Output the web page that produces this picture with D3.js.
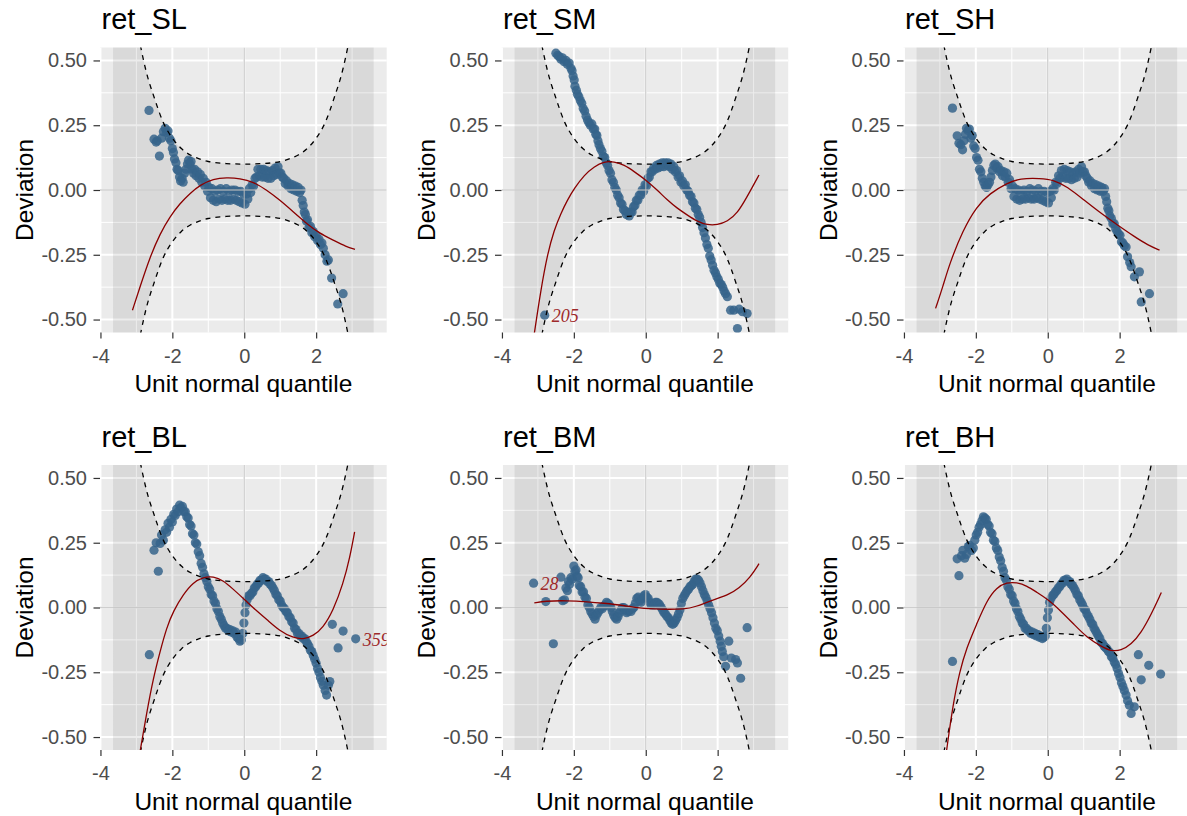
<!DOCTYPE html>
<html>
<head>
<meta charset="utf-8">
<title>Worm plots</title>
<script src="https://d3js.org/d3.v7.min.js"></script>
<style>
  html, body { margin: 0; background: #fff; }
  svg { display: block; font-family: "Liberation Sans", Arial, sans-serif; }
</style>
</head>
<body>
<svg id="chart" width="1187" height="816"></svg>
<script>
// ---- data ----
var panelNames = ["ret_SL", "ret_SM", "ret_SH", "ret_BL", "ret_BM", "ret_BH"];
var xTicks = [-4, -2, 0, 2];
var yTicks = [-0.5, -0.25, 0, 0.25, 0.5];
var xMinor = [-3, -1, 1, 3];
var yMinor = [-0.375, -0.125, 0.125, 0.375];

// confidence band (dashed) and shaded ribbon
var bandX     = [-3.65, -3.5, -3.25, -3.0, -2.75, -2.5, -2.25, -2.0, -1.75, -1.5, -1.25, -1.0, -0.5, 0, 0.5, 1.0, 1.25, 1.5, 1.75, 2.0, 2.25, 2.5, 2.75, 3.0, 3.25, 3.5, 3.6];
var bandUpper = [1.75, 1.4, 0.95, 0.65, 0.47, 0.355, 0.26, 0.2, 0.16, 0.135, 0.12, 0.11, 0.102, 0.1, 0.102, 0.11, 0.12, 0.135, 0.16, 0.2, 0.26, 0.355, 0.47, 0.65, 0.95, 1.4, 1.6];
var bandLower = [-1.75, -1.4, -0.95, -0.65, -0.47, -0.355, -0.26, -0.2, -0.16, -0.135, -0.12, -0.11, -0.102, -0.1, -0.102, -0.11, -0.12, -0.135, -0.16, -0.2, -0.26, -0.355, -0.47, -0.65, -0.95, -1.4, -1.6];

var slPoints = [[-2.65,0.307],[-2.51,0.196],[-2.45,0.185],[-2.42,0.19],[-2.36,0.131],[-2.3,0.2],[-2.25,0.225],[-2.2,0.238],[-2.16,0.222],[-2.12,0.228],[-2.08,0.2],[-2.04,0.19],[-2.0,0.16],[-1.97,0.145],[-1.94,0.12],[-1.9,0.105],[-1.87,0.08],[-1.84,0.075],[-1.8,0.05],[-1.77,0.035],[-1.73,0.045],[-1.7,0.03],[-1.66,0.065],[-1.62,0.08],[-1.58,0.1],[-1.55,0.115],[-1.51,0.1],[-1.48,0.11],[-1.45,0.08],[-1.41,0.065],[-1.38,0.08],[-1.34,0.055],[-1.3,0.07],[-1.26,0.045],[-1.22,0.06],[-1.18,0.03],[-1.14,0.045],[-1.1,0.015],[-1.06,0.03],[-1.02,-0.005],[-0.98,0.01],[-0.94,-0.03],[-0.9,0.005],[-0.86,-0.04],[-0.82,-0.005],[-0.78,-0.045],[-0.74,0.0],[-0.7,-0.035],[-0.66,0.005],[-0.62,-0.04],[-0.58,-0.005],[-0.54,-0.035],[-0.5,0.005],[-0.46,-0.04],[-0.42,-0.005],[-0.38,-0.04],[-0.34,0.0],[-0.3,-0.035],[-0.26,0.0],[-0.22,-0.04],[-0.18,-0.005],[-0.14,-0.045],[-0.1,-0.005],[-0.06,-0.05],[-0.02,-0.015],[0.02,-0.055],[0.06,-0.015],[0.1,-0.035],[0.14,0.005],[0.18,-0.01],[0.22,0.02],[0.26,0.015],[0.3,0.045],[0.34,0.05],[0.38,0.08],[0.42,0.055],[0.46,0.08],[0.5,0.05],[0.54,0.08],[0.58,0.05],[0.62,0.075],[0.66,0.045],[0.7,0.07],[0.74,0.045],[0.78,0.075],[0.82,0.055],[0.86,0.085],[0.9,0.06],[0.94,0.09],[0.98,0.065],[1.02,0.065],[1.06,0.05],[1.1,0.045],[1.14,0.025],[1.18,0.035],[1.22,0.015],[1.26,0.025],[1.3,0.005],[1.34,0.02],[1.38,0.0],[1.42,0.015],[1.46,-0.005],[1.5,0.01],[1.54,-0.01],[1.58,0.0],[1.61,-0.04],[1.64,-0.06],[1.67,-0.085],[1.7,-0.095],[1.73,-0.12],[1.76,-0.115],[1.8,-0.145],[1.84,-0.14],[1.88,-0.165],[1.92,-0.16],[1.96,-0.18],[2.0,-0.175],[2.04,-0.195],[2.08,-0.19],[2.12,-0.21],[2.16,-0.205],[2.2,-0.225],[2.25,-0.25],[2.3,-0.275],[2.34,-0.27],[2.43,-0.34],[2.6,-0.44],[2.75,-0.40]];
var slFit = [[-3.11,-0.464],[-2.9,-0.374],[-2.62,-0.258],[-2.34,-0.168],[-2.07,-0.103],[-1.79,-0.052],[-1.51,-0.013],[-1.23,0.019],[-0.86,0.043],[-0.49,0.048],[-0.12,0.045],[0.25,0.032],[0.62,0.0],[0.99,-0.039],[1.36,-0.084],[1.73,-0.129],[2.1,-0.168],[2.47,-0.193],[2.84,-0.219],[3.08,-0.229]];
var slLabels = [];

var smPoints = [[-2.81,-0.483],[-2.5,0.528],[-2.45,0.52],[-2.41,0.515],[-2.36,0.505],[-2.32,0.51],[-2.27,0.495],[-2.22,0.5],[-2.18,0.485],[-2.13,0.49],[-2.08,0.47],[-2.05,0.46],[-2.02,0.44],[-1.99,0.425],[-1.97,0.4],[-1.93,0.385],[-1.9,0.37],[-1.86,0.36],[-1.82,0.345],[-1.78,0.335],[-1.74,0.315],[-1.7,0.305],[-1.66,0.285],[-1.62,0.27],[-1.58,0.26],[-1.54,0.25],[-1.5,0.255],[-1.46,0.235],[-1.42,0.235],[-1.39,0.215],[-1.36,0.21],[-1.33,0.19],[-1.3,0.175],[-1.26,0.16],[-1.22,0.15],[-1.18,0.13],[-1.14,0.125],[-1.1,0.105],[-1.06,0.095],[-1.02,0.075],[-0.98,0.065],[-0.94,0.04],[-0.9,0.03],[-0.86,0.01],[-0.82,0.0],[-0.78,-0.02],[-0.74,-0.03],[-0.7,-0.05],[-0.66,-0.055],[-0.62,-0.075],[-0.58,-0.08],[-0.54,-0.095],[-0.5,-0.085],[-0.46,-0.1],[-0.42,-0.085],[-0.38,-0.085],[-0.34,-0.065],[-0.3,-0.06],[-0.26,-0.04],[-0.22,-0.04],[-0.18,-0.02],[-0.14,-0.02],[-0.1,0.0],[-0.06,-0.005],[-0.02,0.02],[0.02,0.015],[0.06,0.045],[0.1,0.05],[0.14,0.07],[0.18,0.07],[0.22,0.085],[0.26,0.08],[0.3,0.095],[0.34,0.085],[0.38,0.1],[0.42,0.09],[0.46,0.105],[0.5,0.09],[0.54,0.105],[0.58,0.095],[0.62,0.105],[0.66,0.09],[0.7,0.1],[0.74,0.08],[0.78,0.09],[0.82,0.07],[0.86,0.075],[0.9,0.05],[0.94,0.055],[0.98,0.03],[1.02,0.035],[1.06,0.015],[1.1,0.02],[1.14,0.0],[1.18,-0.005],[1.22,-0.02],[1.26,-0.025],[1.3,-0.045],[1.34,-0.05],[1.38,-0.07],[1.42,-0.075],[1.46,-0.095],[1.5,-0.105],[1.54,-0.125],[1.58,-0.145],[1.62,-0.165],[1.66,-0.185],[1.7,-0.21],[1.74,-0.225],[1.78,-0.255],[1.82,-0.27],[1.86,-0.29],[1.9,-0.31],[1.94,-0.32],[1.98,-0.335],[2.02,-0.345],[2.06,-0.36],[2.1,-0.365],[2.14,-0.375],[2.18,-0.39],[2.22,-0.4],[2.27,-0.412],[2.36,-0.464],[2.45,-0.464],[2.55,-0.535],[2.6,-0.46],[2.69,-0.47],[2.82,-0.477]];
var smFit = [[-3.1,-0.554],[-2.92,-0.387],[-2.73,-0.245],[-2.55,-0.155],[-2.36,-0.09],[-2.18,-0.039],[-1.99,0.006],[-1.71,0.058],[-1.44,0.09],[-1.16,0.11],[-0.88,0.11],[-0.6,0.097],[-0.32,0.071],[0.0,0.039],[0.32,0.0],[0.6,-0.039],[0.88,-0.071],[1.16,-0.097],[1.44,-0.122],[1.71,-0.135],[1.99,-0.135],[2.27,-0.122],[2.55,-0.09],[2.82,-0.026],[3.15,0.058]];
var smLabels = [[-2.81, -0.483, "205"]];

var shPoints = [[-2.65,0.316],[-2.52,0.209],[-2.47,0.18],[-2.42,0.175],[-2.37,0.155],[-2.33,0.19],[-2.29,0.215],[-2.26,0.238],[-2.22,0.23],[-2.18,0.235],[-2.14,0.2],[-2.1,0.21],[-2.06,0.17],[-2.02,0.16],[-1.98,0.125],[-1.94,0.115],[-1.9,0.08],[-1.86,0.07],[-1.82,0.045],[-1.78,0.03],[-1.74,0.015],[-1.7,0.01],[-1.66,0.02],[-1.62,0.03],[-1.58,0.05],[-1.54,0.075],[-1.5,0.095],[-1.46,0.1],[-1.42,0.085],[-1.38,0.09],[-1.34,0.07],[-1.3,0.075],[-1.26,0.055],[-1.22,0.07],[-1.18,0.05],[-1.14,0.065],[-1.1,0.03],[-1.06,0.04],[-1.02,0.005],[-0.98,0.015],[-0.94,-0.025],[-0.9,0.005],[-0.86,-0.035],[-0.82,0.0],[-0.78,-0.04],[-0.74,-0.005],[-0.7,-0.035],[-0.66,0.0],[-0.62,-0.035],[-0.58,-0.005],[-0.54,-0.03],[-0.5,0.005],[-0.46,-0.035],[-0.42,0.0],[-0.38,-0.035],[-0.34,-0.005],[-0.3,-0.03],[-0.26,0.005],[-0.22,-0.035],[-0.18,-0.005],[-0.14,-0.04],[-0.1,-0.005],[-0.06,-0.045],[-0.02,-0.01],[0.02,-0.05],[0.06,-0.005],[0.1,-0.03],[0.14,0.005],[0.18,0.0],[0.22,0.03],[0.26,0.025],[0.3,0.055],[0.34,0.045],[0.38,0.075],[0.42,0.05],[0.46,0.08],[0.5,0.045],[0.54,0.075],[0.58,0.045],[0.62,0.07],[0.66,0.04],[0.7,0.065],[0.74,0.045],[0.78,0.07],[0.82,0.05],[0.86,0.08],[0.9,0.065],[0.94,0.09],[0.98,0.07],[1.02,0.07],[1.06,0.055],[1.1,0.045],[1.14,0.03],[1.18,0.035],[1.22,0.015],[1.26,0.025],[1.3,0.005],[1.34,0.02],[1.38,0.0],[1.42,0.015],[1.46,-0.005],[1.5,0.01],[1.54,-0.005],[1.58,0.005],[1.61,-0.025],[1.64,-0.045],[1.67,-0.07],[1.7,-0.08],[1.73,-0.1],[1.77,-0.11],[1.81,-0.13],[1.85,-0.13],[1.89,-0.15],[1.93,-0.16],[1.97,-0.17],[2.01,-0.175],[2.05,-0.2],[2.09,-0.205],[2.13,-0.215],[2.18,-0.22],[2.22,-0.258],[2.28,-0.28],[2.32,-0.296],[2.41,-0.335],[2.55,-0.316],[2.6,-0.432],[2.83,-0.40]];
var shFit = [[-3.12,-0.457],[-2.92,-0.374],[-2.73,-0.284],[-2.36,-0.155],[-1.98,-0.064],[-1.61,-0.013],[-1.14,0.026],[-0.77,0.045],[-0.21,0.045],[0.17,0.039],[0.54,0.013],[1.01,-0.039],[1.48,-0.09],[1.94,-0.135],[2.41,-0.18],[2.79,-0.213],[3.11,-0.232]];
var shLabels = [];

var blPoints = [[-2.64,-0.182],[-2.51,0.221],[-2.45,0.25],[-2.39,0.14],[-2.34,0.247],[-2.3,0.28],[-2.25,0.26],[-2.2,0.3],[-2.16,0.29],[-2.12,0.325],[-2.08,0.31],[-2.04,0.34],[-2.0,0.33],[-1.96,0.36],[-1.92,0.355],[-1.88,0.38],[-1.84,0.37],[-1.8,0.395],[-1.76,0.385],[-1.72,0.39],[-1.68,0.37],[-1.64,0.37],[-1.6,0.35],[-1.56,0.345],[-1.52,0.32],[-1.48,0.315],[-1.44,0.285],[-1.4,0.28],[-1.36,0.25],[-1.32,0.245],[-1.28,0.215],[-1.24,0.2],[-1.2,0.17],[-1.16,0.155],[-1.12,0.13],[-1.08,0.115],[-1.04,0.1],[-1.0,0.08],[-0.96,0.07],[-0.92,0.05],[-0.88,0.045],[-0.84,0.025],[-0.8,0.015],[-0.76,-0.005],[-0.72,-0.015],[-0.68,-0.035],[-0.64,-0.045],[-0.6,-0.06],[-0.56,-0.07],[-0.52,-0.08],[-0.48,-0.08],[-0.44,-0.09],[-0.4,-0.085],[-0.36,-0.095],[-0.32,-0.09],[-0.28,-0.1],[-0.24,-0.095],[-0.2,-0.115],[-0.16,-0.12],[-0.12,-0.13],[-0.08,-0.125],[-0.04,-0.1],[-0.01,-0.06],[0.02,-0.02],[0.05,0.01],[0.08,0.03],[0.12,0.045],[0.16,0.045],[0.2,0.055],[0.24,0.06],[0.28,0.075],[0.32,0.08],[0.36,0.09],[0.4,0.095],[0.44,0.105],[0.48,0.105],[0.52,0.115],[0.56,0.11],[0.6,0.11],[0.64,0.1],[0.68,0.1],[0.72,0.09],[0.76,0.085],[0.8,0.075],[0.84,0.065],[0.88,0.05],[0.92,0.045],[0.96,0.03],[1.0,0.025],[1.04,0.01],[1.08,0.0],[1.12,-0.005],[1.16,-0.015],[1.2,-0.02],[1.24,-0.035],[1.28,-0.04],[1.32,-0.055],[1.36,-0.06],[1.4,-0.08],[1.44,-0.085],[1.48,-0.1],[1.52,-0.1],[1.56,-0.11],[1.6,-0.11],[1.64,-0.12],[1.68,-0.12],[1.72,-0.13],[1.76,-0.14],[1.8,-0.15],[1.84,-0.165],[1.88,-0.17],[1.92,-0.185],[1.96,-0.2],[2.0,-0.215],[2.04,-0.235],[2.08,-0.25],[2.12,-0.27],[2.16,-0.285],[2.2,-0.3],[2.25,-0.32],[2.29,-0.338],[2.34,-0.3],[2.38,-0.286],[2.45,-0.065],[2.61,-0.156],[2.75,-0.091],[3.1,-0.121]];
var blFit = [[-2.9,-0.558],[-2.71,-0.403],[-2.53,-0.273],[-2.34,-0.169],[-2.16,-0.078],[-1.97,-0.013],[-1.69,0.052],[-1.42,0.097],[-1.14,0.117],[-0.86,0.121],[-0.58,0.104],[-0.31,0.071],[0.0,0.032],[0.34,-0.013],[0.62,-0.045],[0.99,-0.091],[1.36,-0.117],[1.64,-0.123],[1.92,-0.11],[2.19,-0.078],[2.47,-0.013],[2.75,0.091],[2.94,0.195],[3.07,0.292]];
var blLabels = [[3.1, -0.121, "359"]];

var bmPoints = [[-3.12,0.094],[-2.78,0.023],[-2.57,-0.14],[-2.36,0.117],[-2.31,0.026],[-2.26,0.03],[-2.22,0.075],[-2.18,0.065],[-2.15,0.1],[-2.12,0.09],[-2.08,0.115],[-2.04,0.11],[-2.0,0.16],[-1.97,0.14],[-1.94,0.145],[-1.91,0.12],[-1.88,0.115],[-1.85,0.085],[-1.81,0.08],[-1.77,0.06],[-1.73,0.06],[-1.69,0.04],[-1.65,0.035],[-1.61,0.01],[-1.57,0.0],[-1.53,-0.015],[-1.49,-0.025],[-1.45,-0.035],[-1.41,-0.045],[-1.37,-0.03],[-1.33,-0.02],[-1.29,-0.01],[-1.25,0.0],[-1.21,-0.005],[-1.17,0.005],[-1.13,0.01],[-1.09,0.02],[-1.05,0.015],[-1.01,0.01],[-0.97,0.0],[-0.93,-0.015],[-0.89,-0.03],[-0.85,-0.04],[-0.81,-0.045],[-0.77,-0.035],[-0.73,-0.02],[-0.69,-0.01],[-0.65,0.0],[-0.61,0.0],[-0.57,-0.01],[-0.53,-0.02],[-0.49,-0.015],[-0.45,-0.01],[-0.41,-0.015],[-0.37,-0.005],[-0.33,0.0],[-0.29,0.015],[-0.25,0.035],[-0.21,0.04],[-0.17,0.025],[-0.13,0.02],[-0.09,0.035],[-0.05,0.045],[-0.01,0.05],[0.03,0.04],[0.07,0.035],[0.11,0.02],[0.15,0.01],[0.19,0.015],[0.23,0.01],[0.27,0.02],[0.31,0.02],[0.35,0.015],[0.39,0.01],[0.43,0.0],[0.47,-0.01],[0.51,-0.02],[0.55,-0.025],[0.59,-0.035],[0.63,-0.04],[0.67,-0.05],[0.71,-0.06],[0.75,-0.065],[0.79,-0.06],[0.83,-0.05],[0.87,-0.04],[0.91,-0.025],[0.95,-0.01],[0.99,0.015],[1.03,0.035],[1.07,0.045],[1.11,0.055],[1.15,0.065],[1.19,0.07],[1.23,0.08],[1.27,0.085],[1.31,0.09],[1.35,0.1],[1.39,0.11],[1.43,0.11],[1.47,0.105],[1.51,0.095],[1.55,0.08],[1.59,0.065],[1.63,0.05],[1.67,0.04],[1.71,0.025],[1.75,0.01],[1.79,-0.005],[1.83,-0.02],[1.87,-0.04],[1.91,-0.06],[1.95,-0.08],[1.99,-0.09],[2.03,-0.11],[2.07,-0.13],[2.1,-0.15],[2.13,-0.17],[2.17,-0.19],[2.22,-0.227],[2.31,-0.13],[2.38,-0.195],[2.5,-0.201],[2.55,-0.214],[2.64,-0.273],[2.82,-0.078]];
var bmFit = [[-3.1,0.018],[-2.8,0.025],[-2.2,0.027],[-1.6,0.022],[-1.2,0.017],[-0.6,0.008],[-0.2,-0.003],[0.4,-0.007],[1.1,-0.007],[1.4,0.004],[1.7,0.02],[2.0,0.035],[2.3,0.05],[2.6,0.075],[2.9,0.115],[3.15,0.169]];
var bmLabels = [[-3.12, 0.094, "28"]];

var bhPoints = [[-2.65,-0.208],[-2.52,0.188],[-2.47,0.123],[-2.4,0.2],[-2.36,0.221],[-2.31,0.19],[-2.26,0.205],[-2.21,0.235],[-2.17,0.24],[-2.12,0.22],[-2.07,0.23],[-2.03,0.26],[-1.99,0.28],[-1.95,0.29],[-1.91,0.31],[-1.87,0.32],[-1.83,0.335],[-1.79,0.35],[-1.75,0.345],[-1.71,0.34],[-1.67,0.32],[-1.63,0.315],[-1.59,0.29],[-1.55,0.285],[-1.51,0.26],[-1.47,0.255],[-1.43,0.23],[-1.39,0.22],[-1.35,0.195],[-1.31,0.18],[-1.27,0.155],[-1.23,0.14],[-1.19,0.115],[-1.15,0.105],[-1.11,0.08],[-1.07,0.07],[-1.03,0.05],[-0.99,0.045],[-0.95,0.025],[-0.91,0.015],[-0.87,-0.005],[-0.83,-0.015],[-0.79,-0.035],[-0.75,-0.045],[-0.71,-0.06],[-0.67,-0.065],[-0.63,-0.08],[-0.59,-0.08],[-0.55,-0.09],[-0.51,-0.09],[-0.47,-0.1],[-0.43,-0.095],[-0.39,-0.105],[-0.35,-0.1],[-0.31,-0.11],[-0.27,-0.105],[-0.23,-0.115],[-0.19,-0.11],[-0.15,-0.12],[-0.11,-0.115],[-0.07,-0.11],[-0.04,-0.08],[-0.01,-0.04],[0.02,-0.01],[0.05,0.02],[0.09,0.035],[0.13,0.045],[0.17,0.05],[0.21,0.06],[0.25,0.065],[0.29,0.075],[0.33,0.08],[0.37,0.09],[0.41,0.095],[0.45,0.105],[0.49,0.105],[0.53,0.11],[0.57,0.1],[0.61,0.1],[0.65,0.09],[0.69,0.085],[0.73,0.075],[0.77,0.065],[0.81,0.05],[0.85,0.045],[0.89,0.03],[0.93,0.02],[0.97,0.01],[1.01,-0.005],[1.05,-0.01],[1.09,-0.025],[1.13,-0.035],[1.17,-0.045],[1.21,-0.06],[1.25,-0.065],[1.29,-0.08],[1.33,-0.09],[1.37,-0.1],[1.41,-0.11],[1.45,-0.12],[1.49,-0.135],[1.53,-0.14],[1.57,-0.15],[1.61,-0.155],[1.65,-0.16],[1.69,-0.17],[1.73,-0.175],[1.77,-0.19],[1.81,-0.195],[1.85,-0.21],[1.89,-0.22],[1.93,-0.235],[1.97,-0.255],[2.01,-0.27],[2.05,-0.29],[2.09,-0.305],[2.13,-0.32],[2.18,-0.338],[2.22,-0.36],[2.27,-0.377],[2.32,-0.409],[2.41,-0.383],[2.52,-0.182],[2.6,-0.279],[2.81,-0.223],[3.14,-0.257]];
var bhFit = [[-2.82,-0.558],[-2.64,-0.377],[-2.45,-0.247],[-2.26,-0.156],[-1.98,-0.065],[-1.7,0.026],[-1.42,0.078],[-1.14,0.097],[-0.86,0.097],[-0.58,0.084],[-0.3,0.058],[0.0,0.032],[0.36,-0.013],[0.73,-0.065],[1.1,-0.117],[1.48,-0.149],[1.76,-0.169],[2.04,-0.166],[2.32,-0.143],[2.6,-0.097],[2.88,-0.026],[3.16,0.058]];
var bhLabels = [];

// ---- layout ----
var colLeft = [100, 501.5, 903.5];
var rowTop = [47.5, 465];
var W = 286.7, H = 285;

var panels = [
  {name: panelNames[0], pts: slPoints, fit: slFit, labels: slLabels},
  {name: panelNames[1], pts: smPoints, fit: smFit, labels: smLabels},
  {name: panelNames[2], pts: shPoints, fit: shFit, labels: shLabels},
  {name: panelNames[3], pts: blPoints, fit: blFit, labels: blLabels},
  {name: panelNames[4], pts: bmPoints, fit: bmFit, labels: bmLabels},
  {name: panelNames[5], pts: bhPoints, fit: bhFit, labels: bhLabels}
];

var svg = d3.select("#chart");
svg.append("rect").attr("width", 1187).attr("height", 816).attr("fill", "#fff");

var x = d3.scaleLinear().domain([-4.0125, 3.9625]).range([0, W]);
var y = d3.scaleLinear().domain([-0.55, 0.55]).range([H, 0]);

var band = bandX.map(function(d, i) { return [d, bandLower[i], bandUpper[i]]; });

panels.forEach(function(p, i) {
  var left = colLeft[i % 3], top = rowTop[Math.floor(i / 3)];
  var g = svg.append("g").attr("transform", "translate(" + left + "," + top + ")");

  var clipId = "clip" + i;
  g.append("clipPath").attr("id", clipId)
    .append("rect").attr("width", W).attr("height", H);

  g.append("rect").attr("width", W).attr("height", H).attr("fill", "#ebebeb");

  var grid = g.append("g");
  grid.selectAll(".xmin").data(xMinor).enter().append("line")
    .attr("x1", x).attr("x2", x).attr("y1", 0).attr("y2", H)
    .attr("stroke", "#fff").attr("stroke-width", 1);
  grid.selectAll(".ymin").data(yMinor).enter().append("line")
    .attr("y1", y).attr("y2", y).attr("x1", 0).attr("x2", W)
    .attr("stroke", "#fff").attr("stroke-width", 1);
  grid.selectAll(".xmaj").data(xTicks).enter().append("line")
    .attr("x1", x).attr("x2", x).attr("y1", 0).attr("y2", H)
    .attr("stroke", "#fff").attr("stroke-width", 2);
  grid.selectAll(".ymaj").data(yTicks).enter().append("line")
    .attr("y1", y).attr("y2", y).attr("x1", 0).attr("x2", W)
    .attr("stroke", "#fff").attr("stroke-width", 2);

  var plot = g.append("g").attr("clip-path", "url(#" + clipId + ")");

  // shaded band
  plot.append("path").datum(band)
    .attr("d", d3.area().curve(d3.curveMonotoneX)
      .x(function(d) { return x(d[0]); })
      .y0(function(d) { return y(d[1]); })
      .y1(function(d) { return y(d[2]); }))
    .attr("fill", "#000").attr("fill-opacity", 0.075);

  // points
  plot.selectAll("circle").data(p.pts).enter().append("circle")
    .attr("cx", function(d) { return x(d[0]); })
    .attr("cy", function(d) { return y(d[1]); })
    .attr("r", 4.6)
    .attr("fill", "#36648b").attr("fill-opacity", 0.85);

  // zero lines
  plot.append("line").attr("x1", 0).attr("x2", W).attr("y1", y(0)).attr("y2", y(0))
    .attr("stroke", "#bebebe").attr("stroke-width", 1.3).attr("stroke-opacity", 0.75);
  plot.append("line").attr("y1", 0).attr("y2", H).attr("x1", x(0)).attr("x2", x(0))
    .attr("stroke", "#bebebe").attr("stroke-width", 1.3).attr("stroke-opacity", 0.75);

  // dashed confidence curves
  [bandUpper, bandLower].forEach(function(arr) {
    plot.append("path")
      .datum(bandX.map(function(d, k) { return [d, arr[k]]; }))
      .attr("d", d3.line().curve(d3.curveMonotoneX)
        .x(function(d) { return x(d[0]); })
        .y(function(d) { return y(d[1]); }))
      .attr("fill", "none").attr("stroke", "#000")
      .attr("stroke-width", 1.3).attr("stroke-dasharray", "5,5");
  });

  // fitted cubic
  plot.append("path").datum(p.fit)
    .attr("d", d3.line().curve(d3.curveBasis)
      .x(function(d) { return x(d[0]); })
      .y(function(d) { return y(d[1]); }))
    .attr("fill", "none").attr("stroke", "#8b0000").attr("stroke-width", 1.3);

  // outlier labels
  plot.selectAll(".lab").data(p.labels).enter().append("text")
    .attr("x", function(d) { return x(d[0]) + 7; })
    .attr("y", function(d) { return y(d[1]); })
    .attr("dy", "0.4em")
    .attr("font-family", "'Liberation Serif', 'Times New Roman', serif")
    .attr("font-style", "italic")
    .attr("font-size", 18)
    .attr("fill", "#9e2a2b")
    .text(function(d) { return d[2]; });

  // axes
  var yAxis = g.append("g")
    .call(d3.axisLeft(y).tickValues(yTicks).tickSize(6.5).tickPadding(6.5)
      .tickFormat(function(d) { return d.toFixed(2); }));
  var xAxis = g.append("g").attr("transform", "translate(0," + H + ")")
    .call(d3.axisBottom(x).tickValues(xTicks).tickSize(6).tickPadding(9.8)
      .tickFormat(function(d) { return String(d); }));
  [xAxis, yAxis].forEach(function(a) {
    a.select(".domain").remove();
    a.selectAll(".tick line").attr("stroke", "#333").attr("stroke-width", 1.2);
    a.selectAll(".tick text").attr("fill", "#4d4d4d")
      .attr("font-size", 20).attr("font-family", "'Liberation Sans', Arial, sans-serif");
  });

  // titles
  g.append("text").attr("x", 1.5).attr("y", -18.5)
    .attr("font-size", 29).attr("fill", "#000").text(p.name);
  g.append("text").attr("x", W / 2).attr("y", H + 59.5)
    .attr("text-anchor", "middle").attr("font-size", 24.5).attr("fill", "#000")
    .text("Unit normal quantile");
  g.append("text")
    .attr("transform", "translate(-67," + (H / 2) + ") rotate(-90)")
    .attr("text-anchor", "middle").attr("font-size", 24.5).attr("fill", "#000")
    .text("Deviation");
});
</script>
</body>
</html>
